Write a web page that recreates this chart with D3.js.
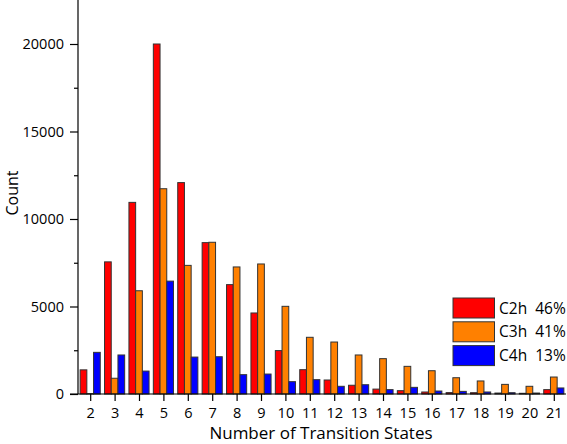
<!DOCTYPE html>
<html>
<head>
<meta charset="utf-8">
<script src="https://cdn.jsdelivr.net/npm/d3@7"></script>
<style>
  html, body { margin: 0; padding: 0; background: #fff; }
  svg { display: block; font-family: "Open Sans", sans-serif; }
</style>
</head>
<body>
<div id="chart"></div>
<script>
const categories = [2,3,4,5,6,7,8,9,10,11,12,13,14,15,16,17,18,19,20,21];
const seriesNames = ["C2h", "C3h", "C4h"];
const seriesShares = ["46%", "41%", "13%"];
const c2h = [1380, 7550, 10950, 20000, 12080, 8650, 6250, 4630, 2480, 1390, 800, 500, 280, 190, 115, 80, 75, 55, 40, 250];
const c3h = [20, 900, 5900, 11730, 7350, 8670, 7260, 7430, 5010, 3240, 2970, 2230, 2020, 1580, 1330, 930, 745, 550, 440, 970];
const c4h = [2380, 2230, 1310, 6450, 2110, 2130, 1105, 1140, 705, 820, 440, 530, 250, 380, 170, 150, 115, 75, 55, 345];
const yMajorTicks = [0, 5000, 10000, 15000, 20000];
const yMinorTicks = [2500, 7500, 12500, 17500];
const colors = ["#FF0000", "#FF8000", "#0000FF"];

const W = 567, H = 444;
const svg = d3.select("#chart").append("svg").attr("width", W).attr("height", H);

const x = d3.scaleLinear().domain([1.5, 21.5]).range([78, 566]);
const y = d3.scaleLinear().domain([0, 22514]).range([394, 0]);

const series = [c2h, c3h, c4h];
const barW = 0.275;

series.forEach((vals, si) => {
  svg.append("g").selectAll("rect").data(categories.map((c, i) => ({c, v: vals[i]})))
    .join("rect")
    .attr("x", d => x(d.c + (si - 1.5) * barW))
    .attr("width", d => x(d.c + (si - 0.5) * barW) - x(d.c + (si - 1.5) * barW))
    .attr("y", d => y(d.v))
    .attr("height", d => y(0) - y(d.v))
    .attr("fill", colors[si])
    .attr("stroke", "#333")
    .attr("stroke-width", 1);
});

// Y axis
const yAxis = svg.append("g").attr("transform", "translate(78,0)")
  .call(d3.axisLeft(y).tickValues(yMajorTicks).tickSize(8).tickPadding(6).tickFormat(d3.format("d")));
svg.append("g").attr("transform", "translate(78,0)")
  .call(d3.axisLeft(y).tickValues(yMinorTicks).tickSize(4).tickFormat(""))
  .select(".domain").remove();
yAxis.select(".domain").attr("d", `M0,${y(0)}V0`);

// X axis
const xAxis = svg.append("g").attr("transform", `translate(0,${y(0)})`)
  .call(d3.axisBottom(x).tickValues(categories).tickSize(7).tickPadding(7).tickFormat(d3.format("d")));
xAxis.select(".domain").attr("d", `M70,0H566`);

svg.selectAll(".tick text").attr("font-size", 14.5).attr("font-family", "Open Sans, sans-serif").attr("fill", "#000");
svg.selectAll(".tick line, .domain").attr("stroke", "#000").attr("stroke-width", 1.2);

// Titles
svg.append("text").attr("x", 321).attr("y", 439).attr("text-anchor", "middle")
  .attr("font-size", 17).text("Number of Transition States");
svg.append("text").attr("transform", "translate(18,193) rotate(-90)").attr("text-anchor", "middle")
  .attr("font-size", 16).text("Count");

// Legend
const lg = svg.append("g");
seriesNames.forEach((n, i) => {
  const yy = 298 + i * 23.8;
  lg.append("rect").attr("x", 453).attr("y", yy).attr("width", 41.5).attr("height", 20)
    .attr("fill", colors[i]).attr("stroke", "#333").attr("stroke-width", 1);
  lg.append("text").attr("x", 499).attr("y", yy + 15.5).attr("font-size", 15.5)
    .attr("xml:space", "preserve").style("white-space", "pre").text(n + "  " + seriesShares[i]);
});
</script>
</body>
</html>
